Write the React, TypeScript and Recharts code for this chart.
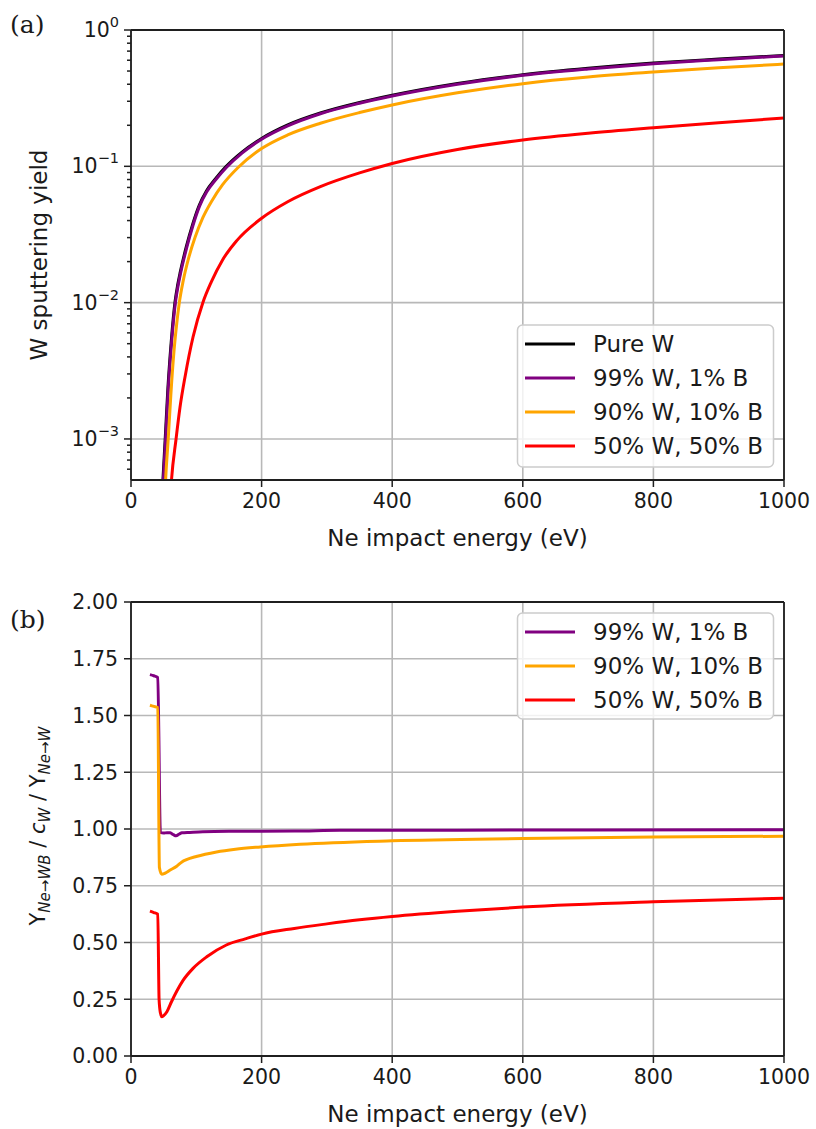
import React from 'react';
import { LineChart, Line, XAxis, YAxis, ReferenceLine, CartesianGrid } from 'recharts';

// ---------- ticks ----------
const energyTicks = [0, 200, 400, 600, 800, 1000];
const yieldMajorTicks = [1e-3, 1e-2, 1e-1, 1];
const yieldMinorTicks = [
  6e-4, 7e-4, 8e-4, 9e-4,
  2e-3, 3e-3, 4e-3, 5e-3, 6e-3, 7e-3, 8e-3, 9e-3,
  2e-2, 3e-2, 4e-2, 5e-2, 6e-2, 7e-2, 8e-2, 9e-2,
  0.2, 0.3, 0.4, 0.5, 0.6, 0.7, 0.8, 0.9,
];
const ratioTicks = [0, 0.25, 0.5, 0.75, 1.0, 1.25, 1.5, 1.75, 2.0];

// ---------- panel (a): sputtering yield ----------
const pureWEnergy = [46.5, 49, 52.5, 56.5, 61.5, 67.5, 71.5, 75.5, 84.5, 94.5, 104.5, 115.5, 129.5, 145.5, 170, 200, 240, 290, 350, 400, 500, 600, 700, 800, 900, 1000];
const pureWYield = [3.0e-4, 5.1e-4, 1.03e-3, 2.35e-3, 5.1e-3, 1.02e-2, 0.0135, 0.0168, 0.0255, 0.0377, 0.0518, 0.066, 0.0812, 0.0995, 0.127, 0.160, 0.201, 0.246, 0.294, 0.332, 0.405, 0.470, 0.524, 0.572, 0.612, 0.651];

const w99Energy = [47, 49.5, 53, 57, 62, 68, 72, 76, 85, 95, 105, 116, 130, 146, 170, 200, 240, 290, 350, 400, 500, 600, 700, 800, 900, 1000];
const w99Yield = [3.0e-4, 5.0e-4, 1.0e-3, 2.3e-3, 5.0e-3, 1.0e-2, 0.0132, 0.0165, 0.0250, 0.037, 0.051, 0.065, 0.080, 0.098, 0.125, 0.158, 0.198, 0.243, 0.290, 0.328, 0.400, 0.465, 0.518, 0.566, 0.606, 0.645];

const w90Energy = [51, 53, 57, 61, 66, 70, 74, 80, 88, 98, 110, 124, 140, 164, 200, 240, 290, 350, 400, 500, 600, 700, 800, 900, 1000];
const w90Yield = [3.0e-4, 5.0e-4, 1.0e-3, 2.1e-3, 4.5e-3, 7.0e-3, 1.0e-2, 0.0145, 0.021, 0.030, 0.042, 0.056, 0.073, 0.098, 0.135, 0.170, 0.207, 0.248, 0.282, 0.346, 0.404, 0.452, 0.491, 0.528, 0.562];

const w50Energy = [59, 62, 69, 75, 83, 95, 110, 123, 140, 162, 200, 240, 290, 350, 400, 500, 600, 700, 800, 900, 1000];
const w50Yield = [3.0e-4, 5.0e-4, 1.0e-3, 1.7e-3, 2.9e-3, 5.6e-3, 1.0e-2, 0.0142, 0.0205, 0.0285, 0.0416, 0.055, 0.071, 0.0895, 0.105, 0.133, 0.156, 0.175, 0.192, 0.209, 0.226];

// ---------- panel (b): normalised yield ratio ----------
const r99Energy = [29, 35, 41, 45, 50, 55, 60, 65, 69, 74, 78, 90, 110, 150, 250, 320, 500, 700, 1000];
const r99Ratio = [1.680, 1.675, 1.667, 0.985, 0.982, 0.984, 0.983, 0.975, 0.970, 0.978, 0.983, 0.985, 0.988, 0.990, 0.991, 0.994, 0.995, 0.996, 0.997];

const r90Energy = [29, 35, 41, 43.5, 47, 52, 60, 70, 78, 85, 100, 131, 160, 198, 259, 400, 600, 800, 1000];
const r90Ratio = [1.545, 1.540, 1.535, 0.830, 0.801, 0.805, 0.819, 0.836, 0.855, 0.865, 0.879, 0.899, 0.911, 0.921, 0.933, 0.948, 0.958, 0.965, 0.968];

const r50Energy = [29, 35, 41, 43, 45, 47, 50, 55, 62, 70, 80, 95, 116, 146, 175, 200, 250, 300, 350, 400, 500, 600, 800, 1000];
const r50Ratio = [0.638, 0.632, 0.625, 0.250, 0.190, 0.173, 0.178, 0.195, 0.239, 0.285, 0.334, 0.386, 0.437, 0.489, 0.516, 0.537, 0.562, 0.582, 0.600, 0.615, 0.638, 0.656, 0.679, 0.695];

const seriesNames = ['Pure W', '99% W, 1% B', '90% W, 10% B', '50% W, 50% B'];
const seriesColors = ['#000000', '#800080', '#FFA500', '#FF0000'];

const zip = (xs: number[], ys: number[]) => xs.map((e, i) => ({ e, y: ys[i] }));

const topSeries = [
  zip(pureWEnergy, pureWYield),
  zip(w99Energy, w99Yield),
  zip(w90Energy, w90Yield),
  zip(w50Energy, w50Yield),
];
const bottomSeries = [
  zip(r99Energy, r99Ratio),
  zip(r90Energy, r90Ratio),
  zip(r50Energy, r50Ratio),
];

const FONT = "'DejaVu Sans', sans-serif";
const TXT = '#1a1a1a';
const SPINE = '#1f1f1f';
const GRID = '#b8b8b8';
const TICK_FS = 20.5;
const LABEL_FS = 23;

const LogTick = (props: any) => {
  const { x, y, payload } = props;
  const v = payload.value as number;
  const major = yieldMajorTicks.some((m) => Math.abs(m - v) / m < 1e-6);
  const len = major ? 7 : 4;
  const exp = Math.round(Math.log10(v));
  return (
    <g>
      <line x1={x - len} x2={x} y1={y} y2={y} stroke={SPINE} strokeWidth={1.5} />
      {major && (
        <text x={x - 12} y={y + 7} textAnchor="end" fontFamily={FONT} fontSize={TICK_FS} fill={TXT}>
          10
          <tspan dy={-10} fontSize={14.5}>{exp < 0 ? '\u2212' + Math.abs(exp) : String(exp)}</tspan>
        </text>
      )}
    </g>
  );
};

const Legend = ({ top, names, colors, height }: any) => (
  <svg style={{ position: 'absolute', left: 0, top: 0, overflow: 'visible' }} width={816} height={1129}>
    <rect x={517.5} y={top} width={256} height={height} rx={5} ry={5} fill="white" fillOpacity={0.8} stroke="#cccccc" strokeWidth={1.5} />
    {names.map((n: string, i: number) => (
      <g key={n}>
        <line x1={525} x2={575} y1={top + 19 + i * 34} y2={top + 19 + i * 34} stroke={colors[i]} strokeWidth={3} />
        <text x={593} y={top + 19 + i * 34 + 8} fontFamily={FONT} fontSize={LABEL_FS} fill={TXT}>{n}</text>
      </g>
    ))}
  </svg>
);

const TopChart = () => (
  <LineChart width={816} height={560} margin={{ top: 30, right: 32, bottom: 50, left: 71 }}>
    <CartesianGrid stroke={GRID} strokeWidth={1.6} verticalValues={energyTicks} horizontalValues={yieldMajorTicks} />
    <XAxis
      type="number"
      dataKey="e"
      domain={[0, 1000]}
      ticks={energyTicks}
      allowDataOverflow
      height={30}
      tickSize={7}
      tickMargin={6}
      interval={0}
      stroke={SPINE}
      axisLine={{ stroke: SPINE, strokeWidth: 1.8 }}
      tickLine={{ stroke: SPINE, strokeWidth: 1.5 }}
      tick={{ fontFamily: FONT, fontSize: TICK_FS, fill: TXT }}
      label={{
        content: () => (
          <text x={457.5} y={546} textAnchor="middle" fontFamily={FONT} fontSize={LABEL_FS} fill={TXT}>
            Ne impact energy (eV)
          </text>
        ),
      }}
    />
    <YAxis
      type="number"
      scale="log"
      domain={[5e-4, 1]}
      allowDataOverflow
      ticks={[...yieldMajorTicks, ...yieldMinorTicks]}
      interval={0}
      width={60}
      tickLine={false}
      tickSize={0}
      tickMargin={0}
      axisLine={{ stroke: SPINE, strokeWidth: 1.8 }}
      tick={<LogTick />}
      label={{
        content: () => (
          <text x={47} y={255} transform="rotate(-90 47 255)" textAnchor="middle" fontFamily={FONT} fontSize={LABEL_FS} fill={TXT}>
            W sputtering yield
          </text>
        ),
      }}
    />
    {topSeries.map((d, i) => (
      <Line
        key={seriesNames[i]}
        data={d}
        dataKey="y"
        type="monotone"
        stroke={seriesColors[i]}
        strokeWidth={3}
        dot={false}
        activeDot={false}
        isAnimationActive={false}
      />
    ))}
    <ReferenceLine y={1} stroke={SPINE} strokeWidth={1.8} />
    <ReferenceLine x={1000} stroke={SPINE} strokeWidth={1.8} />
  </LineChart>
);

const BottomChart = () => (
  <LineChart width={816} height={559} margin={{ top: 32, right: 32, bottom: 43, left: 71 }}>
    <CartesianGrid stroke={GRID} strokeWidth={1.6} verticalValues={energyTicks} horizontalValues={ratioTicks} />
    <XAxis
      type="number"
      dataKey="e"
      domain={[0, 1000]}
      ticks={energyTicks}
      height={30}
      tickSize={7}
      tickMargin={6}
      interval={0}
      stroke={SPINE}
      axisLine={{ stroke: SPINE, strokeWidth: 1.8 }}
      tickLine={{ stroke: SPINE, strokeWidth: 1.5 }}
      tick={{ fontFamily: FONT, fontSize: TICK_FS, fill: TXT }}
      label={{
        content: () => (
          <text x={457.5} y={552} textAnchor="middle" fontFamily={FONT} fontSize={LABEL_FS} fill={TXT}>
            Ne impact energy (eV)
          </text>
        ),
      }}
    />
    <YAxis
      type="number"
      domain={[0, 2]}
      ticks={ratioTicks}
      interval={0}
      width={60}
      tickSize={7}
      tickMargin={6}
      stroke={SPINE}
      axisLine={{ stroke: SPINE, strokeWidth: 1.8 }}
      tickLine={{ stroke: SPINE, strokeWidth: 1.5 }}
      tick={{ fontFamily: FONT, fontSize: TICK_FS, fill: TXT }}
      tickFormatter={(v: number) => v.toFixed(2)}
      label={{
        content: () => (
          <text x={45} y={256} transform="rotate(-90 45 256)" textAnchor="middle" fontFamily={FONT} fontSize={21} fill={TXT}>
            <tspan>Y</tspan>
            <tspan dy={5} fontSize={15} fontStyle="italic">Ne→WB</tspan>
            <tspan dy={-5}> / </tspan>
            <tspan fontStyle="italic">c</tspan>
            <tspan dy={5} fontSize={15} fontStyle="italic">W</tspan>
            <tspan dy={-5}> / Y</tspan>
            <tspan dy={5} fontSize={15} fontStyle="italic">Ne→W</tspan>
          </text>
        ),
      }}
    />
    {bottomSeries.map((d, i) => (
      <Line
        key={seriesNames[i + 1]}
        data={d}
        dataKey="y"
        type="monotone"
        stroke={seriesColors[i + 1]}
        strokeWidth={3}
        dot={false}
        activeDot={false}
        isAnimationActive={false}
      />
    ))}
    <ReferenceLine y={2} stroke={SPINE} strokeWidth={1.8} />
    <ReferenceLine x={1000} stroke={SPINE} strokeWidth={1.8} />
  </LineChart>
);

export default function App() {
  return (
    <div style={{ position: 'absolute', left: 0, top: 0, width: 816, height: 1129, background: 'white' }}>
      <div style={{ position: 'absolute', left: 0, top: 0 }}>
        <TopChart />
      </div>
      <div style={{ position: 'absolute', left: 0, top: 570 }}>
        <BottomChart />
      </div>
      <Legend top={325} height={142} names={seriesNames} colors={seriesColors} />
      <Legend top={613} height={106} names={seriesNames.slice(1)} colors={seriesColors.slice(1)} />
      <svg style={{ position: 'absolute', left: 0, top: 0 }} width={816} height={1129} pointerEvents="none">
        <text x={10} y={33} fontFamily="'DejaVu Serif', serif" fontSize={25} fill={TXT}>(a)</text>
        <text x={10} y={628} fontFamily="'DejaVu Serif', serif" fontSize={25} fill={TXT}>(b)</text>
      </svg>
    </div>
  );
}
